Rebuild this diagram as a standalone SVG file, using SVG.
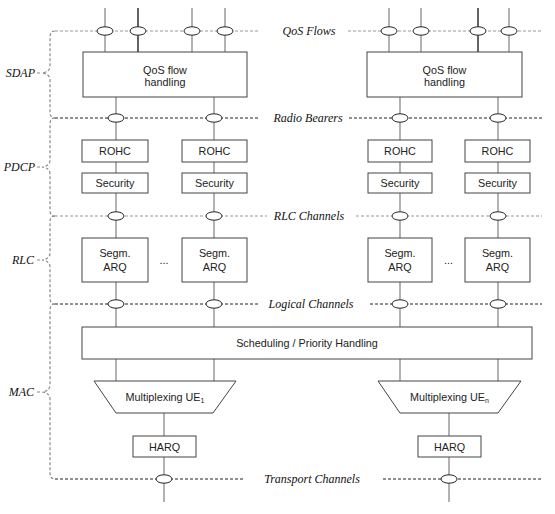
<svg xmlns="http://www.w3.org/2000/svg" width="555" height="514" viewBox="0 0 555 514">
<style>
.v{stroke:#8a8a8a;stroke-width:1.3;fill:none}
.vb{stroke:#111;stroke-width:1.3;fill:none}
.dg{stroke:#9a9a9a;stroke-width:1.2;stroke-dasharray:3 2;fill:none}
.dk{stroke:#222;stroke-width:1;stroke-dasharray:3 2;fill:none}
.br{stroke:#8a8a8a;stroke-width:1.2;stroke-dasharray:3 2;fill:none}
.box{fill:#fff;stroke:#444;stroke-width:1}
.el{fill:#fff;stroke:#222;stroke-width:1}
.t{font-family:"Liberation Sans",Arial,sans-serif;font-size:10.8px;fill:#222;text-anchor:middle}
.l{font-family:"Liberation Serif","Times New Roman",serif;font-style:italic;font-size:12px;fill:#111}
</style>
<rect width="555" height="514" fill="#fff"/>
<g id="connectors">
<path class="v" d="M105 8V52M192 8V52M225 8V52M389 8V52M421 8V52M509 8V52"/>
<path class="vb" d="M138 8V52M478 8V52"/>
<path class="v" d="M116 97V327M214 97V327M400 97V327M498 97V327"/>
<path class="v" d="M116 359V381M214 359V381M400 359V381M498 359V381"/>
<path class="v" d="M164 413V502M449 413V502"/>
<path class="dg" d="M55 31H258M348 31H542"/>
<path class="dk" d="M55 118H258M349 118H542"/>
<path class="dg" d="M55 216H267M356 216H542"/>
<path class="dk" d="M55 304H258M370 304H542"/>
<path class="dk" d="M55 479H245M383 479H542"/>
<path class="br" d="M55 31Q50 31 50 37V66Q50 72 42 73Q50 74 50 80V112Q50 118 55 118"/>
<path class="br" d="M55 118Q50 118 50 124V160Q50 166 42 167Q50 168 50 174V210Q50 216 55 216"/>
<path class="br" d="M55 216Q50 216 50 222V253Q50 259 42 260Q50 261 50 267V298Q50 304 55 304"/>
<path class="br" d="M55 304Q50 304 50 310V385Q50 391 42 392Q50 393 50 399V473Q50 479 55 479"/>
<path class="br" d="M37 73H42M37 167H42M37 260H42M37 392H42"/>
<g class="el">
<ellipse cx="105" cy="31" rx="8" ry="4.2"/><ellipse cx="138" cy="31" rx="8" ry="4.2"/>
<ellipse cx="192" cy="31" rx="8" ry="4.2"/><ellipse cx="225" cy="31" rx="8" ry="4.2"/>
<ellipse cx="389" cy="31" rx="8" ry="4.2"/><ellipse cx="421" cy="31" rx="8" ry="4.2"/>
<ellipse cx="478" cy="31" rx="8" ry="4.2"/><ellipse cx="509" cy="31" rx="8" ry="4.2"/>
<ellipse cx="116" cy="118" rx="8" ry="4.2"/><ellipse cx="214" cy="118" rx="8" ry="4.2"/>
<ellipse cx="400" cy="118" rx="8" ry="4.2"/><ellipse cx="498" cy="118" rx="8" ry="4.2"/>
<ellipse cx="116" cy="216" rx="8" ry="4.2"/><ellipse cx="214" cy="216" rx="8" ry="4.2"/>
<ellipse cx="400" cy="216" rx="8" ry="4.2"/><ellipse cx="498" cy="216" rx="8" ry="4.2"/>
<ellipse cx="116" cy="304" rx="8" ry="4.2"/><ellipse cx="214" cy="304" rx="8" ry="4.2"/>
<ellipse cx="400" cy="304" rx="8" ry="4.2"/><ellipse cx="498" cy="304" rx="8" ry="4.2"/>
<ellipse cx="164" cy="479" rx="8" ry="4.2"/><ellipse cx="449" cy="479" rx="8" ry="4.2"/>
</g>
</g>
<g id="labels">
<text class="l" x="309" y="35" text-anchor="middle">QoS Flows</text>
<text class="l" x="308" y="122" text-anchor="middle">Radio Bearers</text>
<text class="l" x="309" y="220" text-anchor="middle">RLC Channels</text>
<text class="l" x="311" y="308" text-anchor="middle">Logical Channels</text>
<text class="l" x="312" y="483" text-anchor="middle">Transport Channels</text>
<text class="l" x="35" y="77" text-anchor="end">SDAP</text>
<text class="l" x="35" y="171" text-anchor="end">PDCP</text>
<text class="l" x="34" y="264" text-anchor="end">RLC</text>
<text class="l" x="34" y="396" text-anchor="end">MAC</text>
</g>
<g id="qos1"><rect class="box" x="83" y="52" width="164" height="45"/><text class="t" x="165" y="73.5">QoS flow</text><text class="t" x="165" y="86">handling</text></g>
<g id="qos2"><rect class="box" x="367" y="52" width="155" height="45"/><text class="t" x="444.5" y="73.5">QoS flow</text><text class="t" x="444.5" y="86">handling</text></g>
<g id="rohc1"><rect class="box" x="82" y="140" width="66" height="22"/><text class="t" x="115" y="155">ROHC</text></g>
<g id="rohc2"><rect class="box" x="182" y="140" width="65" height="22"/><text class="t" x="214.5" y="155">ROHC</text></g>
<g id="rohc3"><rect class="box" x="368" y="140" width="64" height="22"/><text class="t" x="400" y="155">ROHC</text></g>
<g id="rohc4"><rect class="box" x="465" y="140" width="65" height="22"/><text class="t" x="497.5" y="155">ROHC</text></g>
<g id="sec1"><rect class="box" x="82" y="173" width="66" height="20"/><text class="t" x="115" y="187">Security</text></g>
<g id="sec2"><rect class="box" x="182" y="173" width="65" height="20"/><text class="t" x="214.5" y="187">Security</text></g>
<g id="sec3"><rect class="box" x="368" y="173" width="64" height="20"/><text class="t" x="400" y="187">Security</text></g>
<g id="sec4"><rect class="box" x="465" y="173" width="65" height="20"/><text class="t" x="497.5" y="187">Security</text></g>
<g id="segm1"><rect class="box" x="82" y="238" width="66" height="44"/><text class="t" x="115" y="257">Segm.</text><text class="t" x="115" y="271">ARQ</text></g>
<g id="segm2"><rect class="box" x="182" y="238" width="65" height="44"/><text class="t" x="214.5" y="257">Segm.</text><text class="t" x="214.5" y="271">ARQ</text></g>
<g id="segm3"><rect class="box" x="368" y="238" width="64" height="44"/><text class="t" x="400" y="257">Segm.</text><text class="t" x="400" y="271">ARQ</text></g>
<g id="segm4"><rect class="box" x="465" y="238" width="65" height="44"/><text class="t" x="497.5" y="257">Segm.</text><text class="t" x="497.5" y="271">ARQ</text></g>
<g id="dots1"><text class="t" x="164" y="264" fill="#555">...</text></g>
<g id="dots2"><text class="t" x="448.5" y="264" fill="#555">...</text></g>
<g id="sched"><rect class="box" x="82" y="327" width="450" height="32"/><text class="t" x="307" y="347">Scheduling / Priority Handling</text></g>
<g id="mux1"><path class="box" d="M94 381H236L213 413H116Z"/><text class="t" x="165" y="401">Multiplexing UE<tspan font-size="7" dy="2">1</tspan></text></g>
<g id="mux2"><path class="box" d="M378 381H521L498 413H400Z"/><text class="t" x="449.5" y="401">Multiplexing UE<tspan font-size="7" dy="2">n</tspan></text></g>
<g id="harq1"><rect class="box" x="133" y="436" width="63" height="21"/><text class="t" x="164.5" y="450.5">HARQ</text></g>
<g id="harq2"><rect class="box" x="418" y="436" width="63" height="21"/><text class="t" x="449.5" y="450.5">HARQ</text></g>
</svg>
